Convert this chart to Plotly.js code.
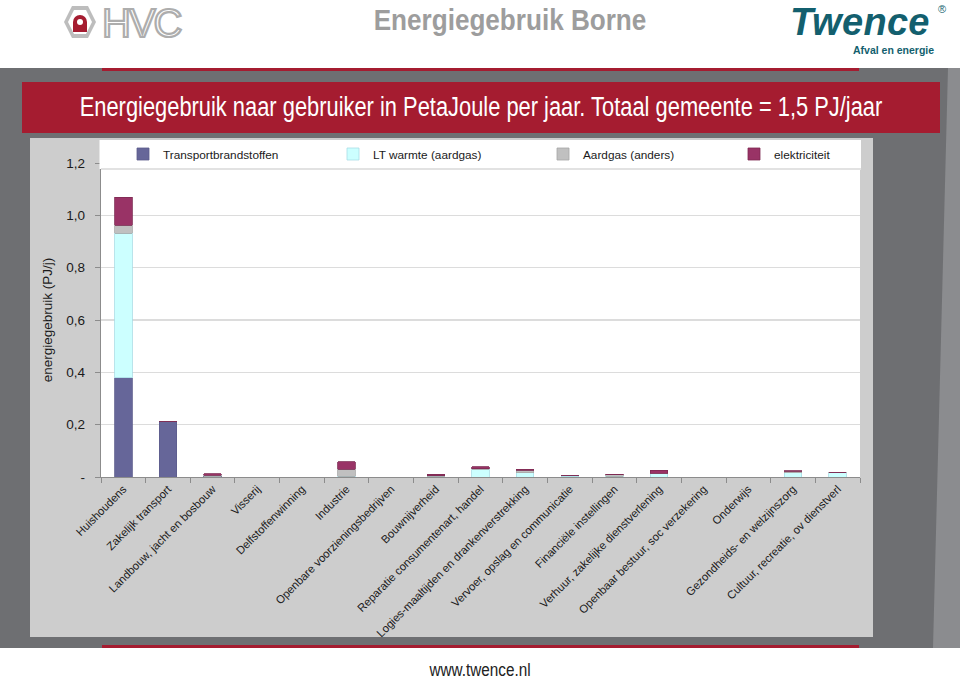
<!DOCTYPE html>
<html>
<head>
<meta charset="utf-8">
<script src="https://cdn.plot.ly/plotly-3.0.1.min.js"></script>
<style>
  html, body { margin:0; padding:0; width:960px; height:679px; overflow:hidden; background:#ffffff; }
  #page { position:relative; width:960px; height:679px; font-family:"Liberation Sans",Arial,sans-serif; }
  .abs { position:absolute; }
  #band { left:0; top:68px; width:960px; height:580px; background:#6e6f72; }
  #bandlight { left:930px; top:68px; width:30px; height:580px; background:#8b8c8f; clip-path:polygon(60% 0,100% 0,100% 100%,10% 100%); }
  #redtop { left:102px; top:68px; width:757px; height:3px; background:#a51c30; }
  #redbot { left:102px; top:645px; width:757px; height:3px; background:#a51c30; }
  #titleband { left:22px; top:82px; width:918px; height:51px; background:#a51c30; overflow:visible; }
  #titletext { left:-141px; top:0; width:1200px; height:51px; color:#ffffff; font-size:27px; line-height:51px; text-align:center; white-space:nowrap; transform:scaleX(0.81); transform-origin:50% 50%; }
  #chartbg { left:30px; top:138px; width:843px; height:499px; background:#cdcdcd; }
  #mainTitle { left:330px; top:0px; width:360px; text-align:center; color:#9d9d9d; font-weight:bold; font-size:30px; line-height:40px; white-space:nowrap; transform:scaleX(0.87); transform-origin:50% 50%; }
  #footer { left:380px; top:658px; width:200px; text-align:center; font-size:18px; color:#222; line-height:24px; transform:scaleX(0.85); transform-origin:50% 50%; }
  #twence { left:790px; top:3px; font-weight:bold; font-style:italic; font-size:38px; color:#135f6e; letter-spacing:0.3px; line-height:38px; white-space:nowrap; }
  #reg { left:938px; top:3px; font-size:11px; color:#135f6e; line-height:12px; }
  #afval { left:853px; top:44.5px; font-size:10.5px; font-weight:bold; color:#135f6e; white-space:nowrap; line-height:11px; }
  #hvcicon { left:58px; top:2px; }
  #hvctext { left:102px; top:3px; font-size:40px; line-height:40px; letter-spacing:-2px; color:#ffffff; -webkit-text-stroke:2.2px #adadad; white-space:nowrap; }
  #chart { left:0; top:0; width:960px; height:679px; }
</style>
</head>
<body>
<div id="page">
  <div class="abs" id="band"></div>
  <div class="abs" id="bandlight"></div>
  <div class="abs" id="redtop"></div>
  <div class="abs" id="redbot"></div>
  <div class="abs" id="titleband"><div class="abs" id="titletext">Energiegebruik naar gebruiker in PetaJoule per jaar. Totaal gemeente = 1,5 PJ/jaar</div></div>
  <div class="abs" id="chartbg"></div>
  <div class="abs" id="mainTitle">Energiegebruik Borne</div>
  <svg class="abs" id="hvcicon" width="44" height="40" viewBox="0 0 44 40">
    <polygon points="14,4 30,4 38,20 30,36 14,36 6,20" fill="#bdbdbd"/>
    <polygon points="16,8 28,8 34,20 28,32 16,32 10,20" fill="#ffffff"/>
    <path d="M15,30 L15,20 A7,7 0 0 1 29,20 L29,30 Z" fill="#a51c30"/>
    <circle cx="22" cy="20" r="3" fill="#ffffff"/>
  </svg>
  <div class="abs" id="hvctext">HVC</div>
  <div class="abs" id="twence">Twence</div>
  <div class="abs" id="reg">®</div>
  <div class="abs" id="afval">Afval en energie</div>
  <div class="abs" id="footer">www.twence.nl</div>
  <div class="abs" id="chart"></div>
</div>
<script>
const categories = [
  "Huishoudens",
  "Zakelijk transport",
  "Landbouw, jacht en bosbouw",
  "Visserij",
  "Delfstoffenwinning",
  "Industrie",
  "Openbare voorzieningsbedrijven",
  "Bouwnijverheid",
  "Reparatie consumentenart, handel",
  "Logies-maaltijden en drankenverstrekking",
  "Vervoer, opslag en communicatie",
  "Financiële instellingen",
  "Verhuur, zakelijke dienstverlening",
  "Openbaar bestuur, soc verzekering",
  "Onderwijs",
  "Gezondheids- en welzijnszorg",
  "Cultuur, recreatie, ov dienstverl"
];
const seriesNames = ["Transportbrandstoffen", "LT warmte (aardgas)", "Aardgas (anders)", "elektriciteit"];
const transport   = [0.380, 0.214, 0.003, 0, 0, 0,     0, 0.002, 0,     0,     0.001, 0,     0,     0, 0, 0,     0];
const ltWarmte    = [0.552, 0,     0,     0, 0, 0.003, 0, 0,     0.029, 0.017, 0.006, 0.002, 0.012, 0, 0, 0.016, 0.017];
const aardgas     = [0.030, 0,     0.004, 0, 0, 0.026, 0, 0.003, 0.002, 0.009, 0,     0.007, 0.002, 0, 0, 0.006, 0.002];
const elektr      = [0.107, 0,     0.006, 0, 0, 0.030, 0, 0.005, 0.008, 0.003, 0,     0.001, 0.012, 0, 0, 0.001, 0];
const yTickVals   = [0, 0.2, 0.4, 0.6, 0.8, 1.0, 1.2];
const yTickText   = ["-", "0,2", "0,4", "0,6", "0,8", "1,0", "1,2"];

const fills = ["#666699", "#ccffff", "#c0c0c0", "#993366"];
const lines = ["#5c5c8c", "#a9dde6", "#a6a6a6", "#7d2a52"];
const values = [transport, ltWarmte, aardgas, elektr];
const legendIds = ["legend", "legend2", "legend3", "legend4"];

const traces = values.map((v, i) => ({
  type: "bar",
  name: seriesNames[i],
  x: categories,
  y: v,
  width: 0.39,
  legend: legendIds[i],
  marker: { color: fills[i], line: { color: lines[i], width: 0.8 } },
  hoverinfo: "skip"
}));

const FONT = "Liberation Sans, Arial, sans-serif";
const W = 960, H = 679;
const plotLeft = 101, plotRight = 860;
const plotTop = 163, plotBot = 477, plotH = plotBot - plotTop;
const px = p => p / W;
const py = p => (plotBot - p) / plotH;

const legendTextStarts = [163, 373, 583, 774];
const legendFont = { family: FONT, size: 11.8, color: "#1a1a1a" };

const layout = {
  width: W, height: H,
  margin: { l: 0, r: 0, t: plotTop, b: H - plotBot, pad: 0 },
  paper_bgcolor: "rgba(0,0,0,0)",
  plot_bgcolor: "#ffffff",
  barmode: "stack",
  font: { family: FONT, size: 12, color: "#1a1a1a" },
  showlegend: true,
  xaxis: {
    type: "category",
    domain: [px(plotLeft), px(plotRight)],
    range: [-0.5, 16.5],
    showline: true, linecolor: "#8c8c8c", linewidth: 1.2,
    ticks: "outside", tickson: "boundaries", ticklen: 5, tickcolor: "#8c8c8c",
    tickangle: -45,
    tickfont: { family: FONT, size: 11.3, color: "#1a1a1a" },
    showgrid: false, zeroline: false, fixedrange: true
  },
  yaxis: {
    range: [0, 1.2],
    tickvals: yTickVals, ticktext: yTickText,
    showline: true, linecolor: "#8c8c8c", linewidth: 1.2,
    ticks: "outside", ticklen: 5, tickcolor: "#8c8c8c",
    ticklabelstandoff: 7,
    tickfont: { family: FONT, size: 13.5, color: "#1a1a1a" },
    showgrid: true, gridcolor: "#dcdcdc", gridwidth: 1.2,
    zeroline: false, fixedrange: true,
    title: { text: "energiegebruik (PJ/j)", standoff: 10, font: { family: FONT, size: 13.5, color: "#1a1a1a" } }
  },
  shapes: [
    { type: "rect", xref: "paper", yref: "paper", x0: px(99.5), x1: px(861), y0: py(169), y1: py(140), fillcolor: "#ffffff", line: { width: 0 }, layer: "above" },
    { type: "line", xref: "paper", yref: "paper", x0: px(101), x1: px(861), y0: py(169), y1: py(169), line: { color: "#e2e2e2", width: 2 }, layer: "above" }
  ]
};
legendIds.forEach((id, i) => {
  layout[id] = {
    orientation: "h",
    x: px(legendTextStarts[i] - 40), xanchor: "left",
    y: py(154), yanchor: "middle",
    bgcolor: "rgba(0,0,0,0)",
    font: legendFont,
    itemwidth: 30
  };
});

Plotly.newPlot("chart", traces, layout, { displayModeBar: false, staticPlot: true });
</script>
</body>
</html>
